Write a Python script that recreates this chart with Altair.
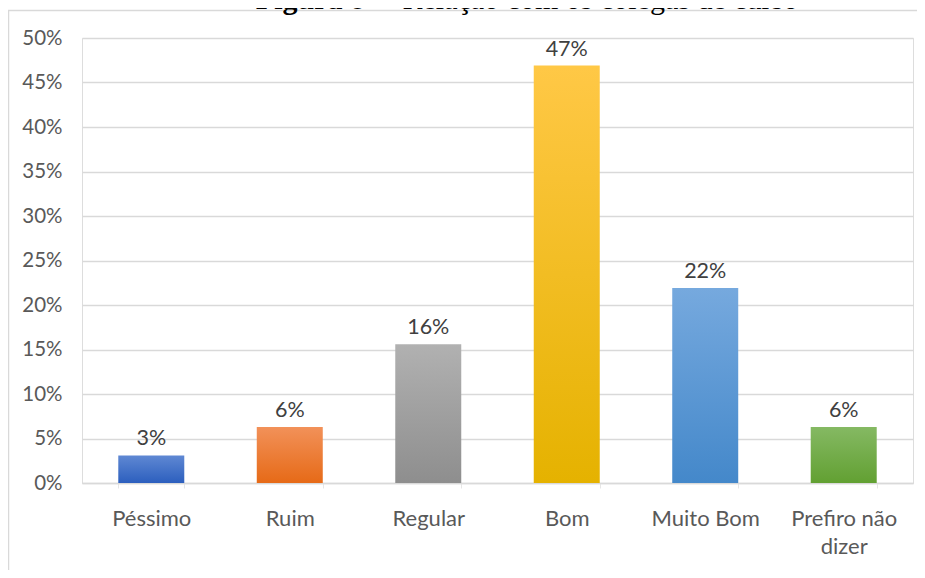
import altair as alt
import pandas as pd

categories = ["Péssimo", "Ruim", "Regular", "Bom", "Muito Bom", "Prefiro não dizer"]
values = [0.031, 0.063, 0.156, 0.469, 0.219, 0.063]
value_labels = ["3%", "6%", "16%", "47%", "22%", "6%"]
top_colors = ["#5F88D3", "#F29159", "#B1B1B1", "#FFC846", "#76A9DE", "#85B963"]
bottom_colors = ["#2C5FBE", "#E66A17", "#8E8E8E", "#E5B200", "#4488CA", "#62A032"]
y_ticks = [0, 0.05, 0.10, 0.15, 0.20, 0.25, 0.30, 0.35, 0.40, 0.45, 0.50]
title_bold = "Figura 8"
title_rest = "– Relação com os colegas de curso"

df = pd.DataFrame({"cat": categories, "val": values, "lab": value_labels})
one = pd.DataFrame({"bold": [title_bold], "rest": [title_rest]})

x_enc = alt.X(
    "cat:N",
    sort=categories,
    scale=alt.Scale(domain=categories, paddingInner=0.5235, paddingOuter=0.262),
    axis=alt.Axis(
        title=None, labelAngle=0, grid=False, domain=True, domainColor="#d9d9d9",
        domainWidth=1.5, ticks=True, tickBand="extent", tickSize=5, tickColor="#e6e6e6",
        labelFont="Lato", labelFontSize=22, labelColor="#595959",
        labelBaseline="alphabetic", labelPadding=37, labelLineHeight=28,
        labelExpr="datum.label == 'Prefiro não dizer' ? ['Prefiro não', 'dizer'] : datum.label",
    ),
)
y_enc = alt.Y(
    "val:Q",
    scale=alt.Scale(domain=[0, 0.5], nice=False),
    axis=alt.Axis(
        title=None, values=y_ticks, format=".0%", domain=False, ticks=False,
        grid=True, gridColor="#d9d9d9", gridWidth=1.5,
        labelFont="Lato", labelFontSize=20.5, labelColor="#595959", labelPadding=20,
    ),
)

border_top = alt.Chart(one).mark_rule(color="#d9d9d9", strokeWidth=1.5).encode(
    x=alt.value(-74), x2=alt.value(840), y=alt.value(-27.5)
)
border_left = alt.Chart(one).mark_rule(color="#d9d9d9", strokeWidth=1.5).encode(
    x=alt.value(-73.5), y=alt.value(-27.5), y2=alt.value(600)
)

title1 = alt.Chart(one).mark_text(
    font="Liberation Serif", fontSize=30, fontWeight="bold", align="right",
    baseline="alphabetic", color="#000000",
).encode(text="bold:N", x=alt.value(283), y=alt.value(-29))
title2 = alt.Chart(one).mark_text(
    font="Liberation Serif", fontSize=30, align="left",
    baseline="alphabetic", color="#000000",
).encode(text="rest:N", x=alt.value(298), y=alt.value(-29))

bar_layers = []
for c, t, b in zip(categories, top_colors, bottom_colors):
    grad = alt.Gradient(
        gradient="linear",
        stops=[alt.GradientStop(color=t, offset=0), alt.GradientStop(color=b, offset=1)],
        x1=0, x2=0, y1=0, y2=1,
    )
    bar_layers.append(
        alt.Chart(df).transform_filter(alt.datum.cat == c).mark_bar(color=grad).encode(x=x_enc, y=y_enc)
    )

texts = alt.Chart(df).mark_text(
    font="Lato", fontSize=21.5, color="#404040", baseline="alphabetic", dy=-10
).encode(x=x_enc, y=y_enc, text="lab:N")

chart = alt.layer(border_top, border_left, *bar_layers, texts, title1, title2).properties(
    width=831,
    height=445,
    autosize=alt.AutoSizeParams(type="none"),
    padding={"left": 74, "top": 30, "right": 4, "bottom": 87},
).configure_view(strokeWidth=0).configure(background="white")

chart.save("out.html", embed_options={"renderer": "svg", "actions": False})
